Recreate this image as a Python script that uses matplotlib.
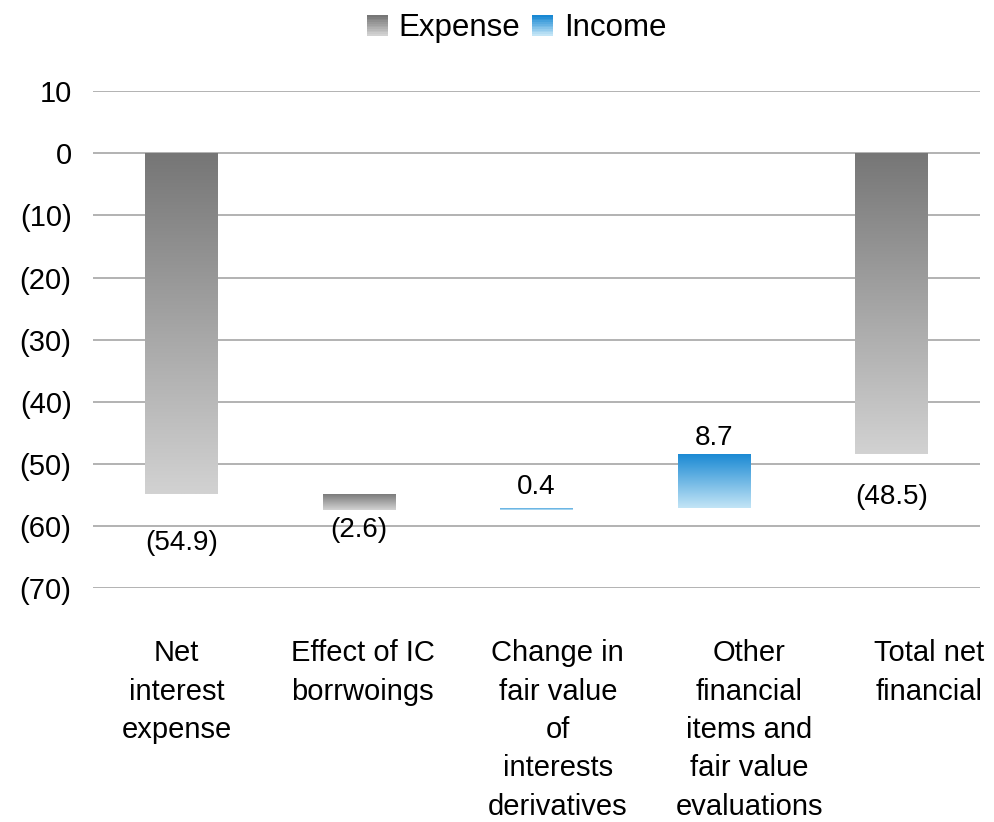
import numpy as np
import matplotlib
matplotlib.use("Agg")
import matplotlib.pyplot as plt
from matplotlib.patches import Rectangle
from matplotlib.colors import LinearSegmentedColormap
from matplotlib.legend_handler import HandlerBase

plt.rcParams['font.family'] = ['Liberation Sans', 'DejaVu Sans']

# -------------------------------------------------
# DATA
# -------------------------------------------------

categories = [
    "Net\ninterest\nexpense",
    "Effect of IC\nborrwoings",
    "Change in\nfair value\nof\ninterests\nderivatives",
    "Other\nfinancial\nitems and\nfair value\nevaluations",
    "Total net\nfinancial",
]
changes = [-54.9, -2.6, 0.4, 8.7, -48.5]
is_total = [False, False, False, False, True]
value_labels = ["(54.9)", "(2.6)", "0.4", "8.7", "(48.5)"]

yticks = [10, 0, -10, -20, -30, -40, -50, -60, -70]

# label placement (style only)
label_shift = [-0.03, 0.02, 0.12, 0.2, 0.21]
label_gap = [7.9, 3.2, 3.4, 2.5, 6.8]

expense_cmap = LinearSegmentedColormap.from_list("exp", ["#d2d2d2", "#767676"])
income_cmap = LinearSegmentedColormap.from_list("inc", ["#c3e5f6", "#1888d3"])

# -------------------------------------------------
# WATERFALL POSITIONS
# -------------------------------------------------

bottoms = []
running = 0.0
for ch, tot in zip(changes, is_total):
    if tot:
        bottoms.append(0.0)
    else:
        bottoms.append(running)
        running += ch

fig = plt.figure(figsize=(9.94, 8.22), dpi=100)
ax = fig.add_axes([0.0936, 0.2847, 0.8924, 0.6043])

x = np.arange(len(categories))
width = 0.41

gradient = np.linspace(0, 1, 256).reshape(-1, 1)

for i in range(len(categories)):
    lo = min(bottoms[i], bottoms[i] + changes[i])
    hi = max(bottoms[i], bottoms[i] + changes[i])
    cmap = income_cmap if changes[i] > 0 else expense_cmap
    bar = ax.bar(x[i], hi - lo, bottom=lo, width=width, color="none",
                 edgecolor="none", zorder=3)[0]
    im = ax.imshow(gradient, cmap=cmap, origin="lower", aspect="auto",
                   extent=[x[i] - width / 2, x[i] + width / 2, lo, hi],
                   zorder=3)
    im.set_clip_path(bar)
    if changes[i] > 0:
        ax.text(x[i], hi + label_gap[i], value_labels[i], ha="center",
                va="center", fontsize=20)
    else:
        ax.text(x[i], lo - label_gap[i], value_labels[i], ha="center",
                va="center", fontsize=20)

ax.set_xlim(-0.5, len(categories) - 0.5)
ax.set_ylim(-70, 10)
ax.set_yticks(yticks)
ax.set_yticklabels([str(t) if t >= 0 else "(%d)" % -t for t in yticks],
                   fontsize=21)
ax.set_xticks(x + np.array(label_shift))
ax.set_xticklabels(categories, fontsize=21, linespacing=1.47)
ax.tick_params(axis="both", length=0)
ax.tick_params(axis="y", pad=15.5)
ax.tick_params(axis="x", pad=37)
ax.grid(axis="y", color="#a6a6a6", linewidth=1.2, zorder=0)
for s in ax.spines.values():
    s.set_visible(False)


# gradient squares in the legend
class GradientHandler(HandlerBase):
    def __init__(self, cmap):
        super().__init__()
        self.cmap = cmap

    def create_artists(self, legend, orig_handle, xdescent, ydescent,
                       width, height, fontsize, trans):
        side = height * 0.95
        n = 12
        arts = []
        for k in range(n):
            c = self.cmap(k / (n - 1))
            r = Rectangle((-xdescent + (width - side), -ydescent + side * k / n),
                          side, side / n + 0.05, facecolor=c, edgecolor="none",
                          transform=trans)
            arts.append(r)
        return arts


h_exp = Rectangle((0, 0), 1, 1)
h_inc = Rectangle((0, 0), 1, 1)
fig.legend([h_exp, h_inc], ["Expense", "Income"],
           handler_map={h_exp: GradientHandler(expense_cmap),
                        h_inc: GradientHandler(income_cmap)},
           loc="center", bbox_to_anchor=(0.5186, 0.966), ncol=2,
           frameon=False, fontsize=22.5, handlelength=0.75, handletextpad=0.35,
           columnspacing=0.3, borderpad=0)

plt.savefig("out.png", dpi=100)
